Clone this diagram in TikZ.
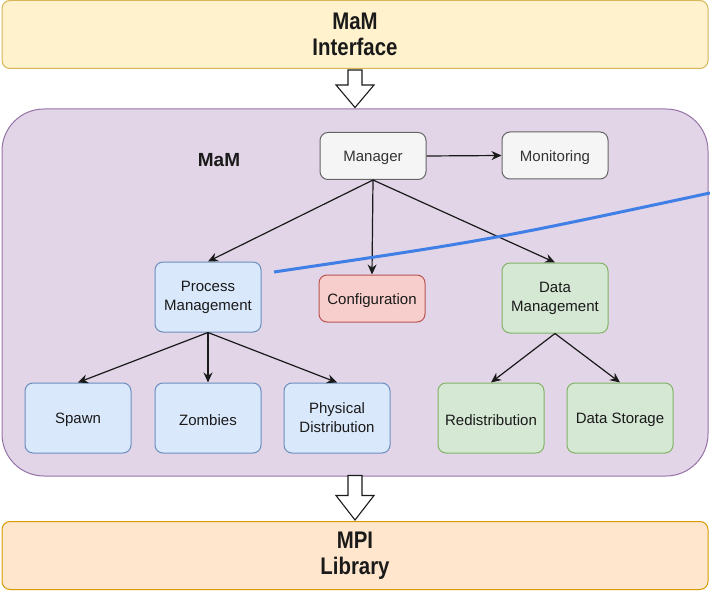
\documentclass[tikz,border=0pt]{standalone}
\usepackage{fontspec}
\setmainfont{Liberation Sans}
\newfontfamily\headfont[FakeStretch=0.85]{Liberation Sans}
\usetikzlibrary{arrows.meta,calc}

\definecolor{ifacefill}{HTML}{FFF2CC}
\definecolor{ifacedraw}{HTML}{D6B656}
\definecolor{mamfill}{HTML}{E1D5E7}
\definecolor{mamdraw}{HTML}{9673A6}
\definecolor{greyfill}{HTML}{F5F5F5}
\definecolor{greydraw}{HTML}{666666}
\definecolor{greytext}{HTML}{333333}
\definecolor{bluefill}{HTML}{DAE8FC}
\definecolor{bluedraw}{HTML}{6C8EBF}
\definecolor{redfill}{HTML}{F8CECC}
\definecolor{reddraw}{HTML}{B85450}
\definecolor{greenfill}{HTML}{D5E8D4}
\definecolor{greendraw}{HTML}{82B366}
\definecolor{mpifill}{HTML}{FFE6CC}
\definecolor{mpidraw}{HTML}{D79B00}
\definecolor{strokeblue}{HTML}{3F7FE6}
\definecolor{ink}{HTML}{1A1A1A}

\begin{document}
\begin{tikzpicture}[x=1pt,y=-1pt,
  layer/.style={draw, line width=1pt, rounded corners=8pt, minimum width=706pt,
    minimum height=68pt, align=center, text=ink,
    font=\headfont\bfseries\fontsize{24}{26}\selectfont},
  box/.style={draw, line width=1pt, rounded corners=8pt, minimum width=106pt,
    align=center, inner sep=1pt, text=ink, font=\fontsize{15}{19}\selectfont,
    execute at begin node={\rule{0pt}{14.5pt}}},
  tall/.style={box, minimum height=70pt},
  short/.style={box, minimum height=47pt},
  greybox/.style={short, fill=greyfill, draw=greydraw, text=greytext},
  bluebox/.style={tall, fill=bluefill, draw=bluedraw},
  greenbox/.style={tall, fill=greenfill, draw=greendraw},
  redbox/.style={short, fill=redfill, draw=reddraw},
  link/.style={draw=ink, line width=1.2pt, -{Stealth[length=10pt,width=9pt]}},
  hollow/.style={draw=ink, line width=1.1pt, fill=white, line join=miter},
  marker/.style={draw=strokeblue, line width=3pt}
]
\useasboundingbox (0,0) rectangle (710,591);

% outer layers
\node[layer, fill=ifacefill, draw=ifacedraw] (iface) at (355,34.5) {MaM\\Interface};
\node[draw=mamdraw, fill=mamfill, line width=1pt, rounded corners=42pt,
      minimum width=706pt, minimum height=367pt] (mam) at (355,292.5) {};
\node[layer, fill=mpifill, draw=mpidraw] (mpi) at (355,555.5) {MPI\\Library};

\node[font=\bfseries\fontsize{19}{22}\selectfont, text=ink] (mamlabel) at (219,160) {MaM};

% modules
\node[greybox] (manager) at (373,156) {Manager};
\node[greybox] (monitor) at (555,155.5) {Monitoring};
\node[bluebox] (procmgmt) at (208,297) {Process\\Management};
\node[redbox] (config) at (372,298.5) {Configuration};
\node[greenbox] (datamgmt) at (555,298) {Data\\Management};

\node[bluebox] (spawn) at (78,418) {Spawn};
\node[bluebox] (zombies) at (208,418) {Zombies};
\node[bluebox] (physdist) at (337,418) {Physical\\Distribution};
\node[greenbox] (redist) at (491,418) {Redistribution};
\node[greenbox] (storage) at (620,418) {Data Storage};

% connectors
\draw[link] (manager.east) -- (monitor.west);
\draw[link] (manager.south) -- (procmgmt.north);
\draw[link] (manager.south) -- (config.north);
\draw[link] (manager.south) -- (datamgmt.north);
\draw[link] (procmgmt.south) -- (spawn.north);
\draw[link] (procmgmt.south) -- (zombies.north);
\draw[link] (procmgmt.south) -- (physdist.north);
\draw[link] (datamgmt.south) -- (redist.north);
\draw[link] (datamgmt.south) -- (storage.north);

% block arrows between layers
\draw[hollow] ($(iface.south)+(-7,1)$) -- ($(iface.south)+(7,1)$)
  -- ($(iface.south)+(7,16)$) -- ($(iface.south)+(19,16)$)
  -- ($(mam.north)+(0,-1)$) -- ($(iface.south)+(-19,16)$)
  -- ($(iface.south)+(-7,16)$) -- cycle;
\draw[hollow] ($(mam.south)+(-7,-1)$) -- ($(mam.south)+(7,-1)$)
  -- ($(mam.south)+(7,19)$) -- ($(mam.south)+(19,19)$)
  -- ($(mpi.north)+(0,-1)$) -- ($(mam.south)+(-19,19)$)
  -- ($(mam.south)+(-7,19)$) -- cycle;

% blue stroke across the module area
\coordinate (sA) at (274,272);
\coordinate (sB) at (710,193);
\draw[marker] (sA) .. controls (490,240) .. (sB);
\end{tikzpicture}
\end{document}
